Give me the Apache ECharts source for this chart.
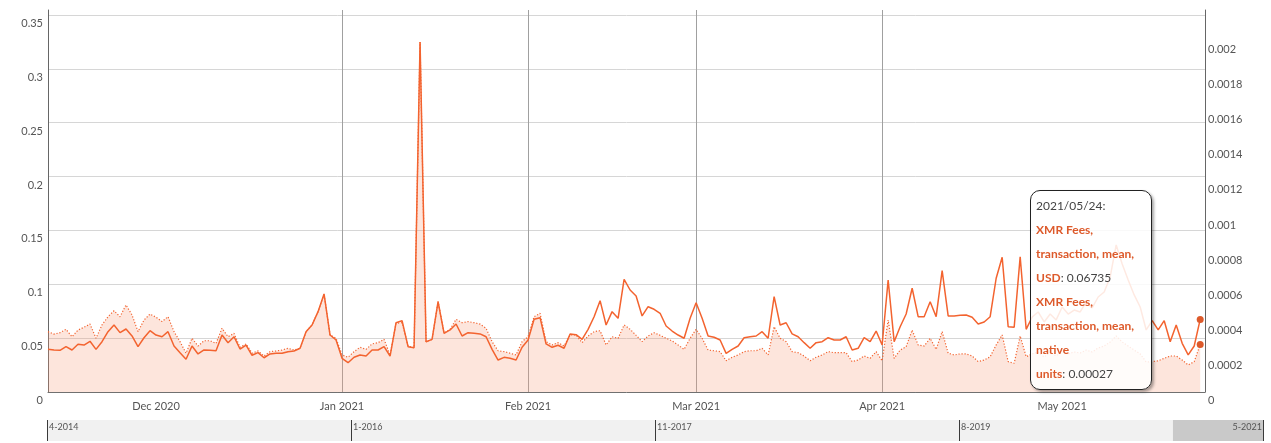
<!DOCTYPE html>
<html><head><meta charset="utf-8">
<script src="https://cdn.jsdelivr.net/npm/echarts@6/dist/echarts.min.js"></script>
<style>html,body{margin:0;padding:0;background:#fff}#c{width:1271px;height:443px}</style>
</head><body><div id="c"></div>
<script>
// ---------- data ----------
const START_DATE = '2020-11-13';           // first daily observation
const USD_NAME = 'XMR Fees, transaction, mean, USD';
const NATIVE_NAME = 'XMR Fees, transaction, mean, native units';

const usdValues = [
 0.0396,0.0390,0.0387,0.0421,0.0390,0.0443,0.0436,0.0471,0.0396,0.0467,
 0.0560,0.0622,0.0551,0.0585,0.0520,0.0421,0.0504,0.0569,0.0529,0.0513,
 0.0560,0.0427,0.0365,0.0304,0.0427,0.0353,0.0390,0.0387,0.0383,0.0529,
 0.0458,0.0513,0.0399,0.0436,0.0341,0.0365,0.0318,0.0353,0.0359,0.0359,
 0.0374,0.0381,0.0406,0.0560,0.0622,0.0746,0.0910,0.0529,0.0483,0.0313,
 0.0272,0.0322,0.0344,0.0334,0.0390,0.0390,0.0421,0.0334,0.0643,0.0662,
 0.0421,0.0411,0.3250,0.0467,0.0489,0.0838,0.0545,0.0576,0.0631,0.0520,
 0.0551,0.0545,0.0539,0.0513,0.0396,0.0297,0.0322,0.0313,0.0297,0.0415,
 0.0483,0.0675,0.0690,0.0446,0.0415,0.0434,0.0406,0.0539,0.0532,0.0489,
 0.0582,0.0699,0.0848,0.0622,0.0746,0.0684,0.1046,0.0947,0.0891,0.0706,
 0.0792,0.0768,0.0731,0.0613,0.0566,0.0529,0.0499,0.0684,0.0829,0.0684,
 0.0520,0.0508,0.0483,0.0359,0.0396,0.0427,0.0504,0.0513,0.0520,0.0560,
 0.0499,0.0885,0.0622,0.0643,0.0539,0.0513,0.0458,0.0406,0.0458,0.0467,
 0.0504,0.0483,0.0483,0.0513,0.0390,0.0406,0.0504,0.0467,0.0566,0.0436,
 0.1040,0.0467,0.0606,0.0724,0.0963,0.0699,0.0699,0.0838,0.0699,0.1126,
 0.0706,0.0706,0.0712,0.0715,0.0694,0.0631,0.0650,0.0699,0.1056,0.1251,
 0.0606,0.0601,0.1256,0.0582,0.0696,0.0743,0.0650,0.0724,0.0669,0.0789,
 0.0724,0.0761,0.0743,0.0836,0.0780,0.0882,0.0928,0.1068,0.1365,0.1188,
 0.1040,0.0901,0.0789,0.0576,0.0662,0.0576,0.0662,0.0467,0.0622,0.0452,
 0.0344,0.0427,0.06735
];

const nativeValues = [
 0.000344,0.000330,0.000338,0.000357,0.000315,0.000353,0.000369,0.000387,0.000306,0.000382,
 0.000429,0.000463,0.000429,0.000496,0.000439,0.000344,0.000410,0.000444,0.000426,0.000401,
 0.000429,0.000344,0.000287,0.000221,0.000306,0.000262,0.000292,0.000292,0.000277,0.000363,
 0.000315,0.000334,0.000255,0.000274,0.000221,0.000234,0.000205,0.000230,0.000234,0.000239,
 0.000249,0.000239,0.000249,0.000344,0.000382,0.000458,0.000558,0.000325,0.000306,0.000211,
 0.000198,0.000230,0.000255,0.000243,0.000274,0.000281,0.000300,0.000211,0.000391,0.000395,
 0.000262,0.000252,0.001994,0.000287,0.000300,0.000515,0.000338,0.000357,0.000414,0.000395,
 0.000401,0.000395,0.000387,0.000363,0.000287,0.000235,0.000230,0.000221,0.000211,0.000287,
 0.000315,0.000429,0.000448,0.000287,0.000268,0.000281,0.000262,0.000325,0.000325,0.000281,
 0.000319,0.000344,0.000349,0.000268,0.000315,0.000306,0.000382,0.000357,0.000323,0.000287,
 0.000319,0.000338,0.000323,0.000306,0.000291,0.000268,0.000243,0.000306,0.000357,0.000306,
 0.000239,0.000235,0.000230,0.000178,0.000198,0.000211,0.000230,0.000235,0.000235,0.000249,
 0.000211,0.000372,0.000306,0.000287,0.000230,0.000224,0.000205,0.000178,0.000198,0.000211,
 0.000230,0.000224,0.000224,0.000224,0.000173,0.000182,0.000205,0.000192,0.000230,0.000178,
 0.000410,0.000192,0.000239,0.000258,0.000353,0.000268,0.000262,0.000306,0.000243,0.000344,
 0.000221,0.000211,0.000217,0.000217,0.000205,0.000173,0.000182,0.000201,0.000268,0.000325,
 0.000173,0.000164,0.000319,0.000201,0.000217,0.000228,0.000199,0.000228,0.000205,0.000239,
 0.000217,0.000228,0.000222,0.000239,0.000228,0.000251,0.000262,0.000285,0.000319,0.000285,
 0.000262,0.000239,0.000217,0.000171,0.000173,0.000178,0.000192,0.000205,0.000205,0.000182,
 0.000154,0.000173,0.00027
];

const monthTicks = ['2020-12-01','2021-01-01','2021-02-01','2021-03-01','2021-04-01','2021-05-01'];
const monthNames = ['Jan','Feb','Mar','Apr','May','Jun','Jul','Aug','Sep','Oct','Nov','Dec'];

const leftAxisTicks = { max: 0.35, step: 0.05 };
const rightAxisTicks = { max: 0.002, step: 0.0002 };

const navStart = '2014-04-18';
const navEnd = '2021-05-24';
const navSelectedFrom = '2020-11-13';
const navLabelCount = 5;

// ---------- helpers ----------
const DAY = 86400000;
function ts(s){ const p = s.split('-').map(Number); return new Date(p[0], p[1]-1, p[2]).getTime(); }
function dayDiff(a, b){ return Math.round((ts(b) - ts(a)) / DAY); }
function pad(n){ return (n < 10 ? '0' : '') + n; }

const sp = START_DATE.split('-').map(Number);
const dates = usdValues.map((_, i) => new Date(sp[0], sp[1]-1, sp[2] + i).getTime());

const ORANGE = '#dd5a2b';
const FONT = 'Lato';

// Plot scale: grid top sits a little above the highest labelled tick
const GRID_TOP = 10, GRID_BOTTOM_Y = 392, TOP_TICK_Y = 15;
const extraFrac = (TOP_TICK_Y - GRID_TOP) / (GRID_BOTTOM_Y - TOP_TICK_Y);
const leftMax = leftAxisTicks.max * (1 + extraFrac);
const rightMax = (GRID_BOTTOM_Y - GRID_TOP) / (GRID_BOTTOM_Y - 41) * rightAxisTicks.max;

const navTotal = dayDiff(navStart, navEnd);
const navSel = dayDiff(navStart, navSelectedFrom);
const navStartTs = ts(navStart);
const monthTickTs = monthTicks.map(ts);
const navFmt = v => { const d = new Date(navStartTs + v * DAY); return (d.getMonth() + 1) + '-' + d.getFullYear(); };
const navLabelValues = [];
for (let k = 0; k < navLabelCount - 1; k++) navLabelValues.push(navTotal * k / (navLabelCount - 1));

const chart = echarts.init(document.getElementById('c'), null, { renderer: 'canvas' });

const navLabelStyle = { fontSize: 9, color: '#555', fontFamily: FONT, formatter: navFmt };

const option = {
  animation: false,
  backgroundColor: '#fff',
  textStyle: { fontFamily: FONT },
  grid: [
    { left: 48, right: 66, top: GRID_TOP, bottom: 443 - GRID_BOTTOM_Y, containLabel: false, outerBoundsMode: 'none' },
    { left: 47, right: 8, top: 420, bottom: 2, show: true, backgroundColor: '#f1f1f1', borderWidth: 0, containLabel: false, outerBoundsMode: 'none' }
  ],
  xAxis: [
    {
      type: 'value', gridIndex: 0,
      min: dates[0], max: dates[dates.length - 1] + 0.8 * DAY,
      axisLine: { show: true, onZero: false, lineStyle: { color: '#707070', width: 1 } },
      axisTick: { show: false, customValues: monthTickTs },
      axisLabel: {
        customValues: monthTickTs,
        color: '#555', fontSize: 11, fontFamily: FONT, margin: 9,
        formatter: v => { const d = new Date(v); return monthNames[d.getMonth()] + ' ' + d.getFullYear(); }
      },
      splitLine: { show: true, showMinLine: false, showMaxLine: false, lineStyle: { color: '#a0a0a0', width: 1 } }
    },
    {
      type: 'value', gridIndex: 1, position: 'top', z: 6,
      min: 0, max: navTotal, interval: navTotal / (navLabelCount - 1),
      axisLine: { show: false }, axisTick: { show: false },
      axisLabel: Object.assign({ customValues: navLabelValues, inside: true, margin: 3, align: 'left', padding: [0, 0, 0, 2] }, navLabelStyle),
      splitLine: { show: true, lineStyle: { color: '#3a3a3a', width: 1 } }
    },
    {
      type: 'value', gridIndex: 1, position: 'bottom', z: 6,
      min: 0, max: navTotal,
      axisLine: { show: false }, axisTick: { show: false }, splitLine: { show: false },
      axisLabel: Object.assign({ customValues: [navTotal], inside: true, margin: 9, align: 'right', padding: [0, 1, 0, 0], showMaxLabel: true }, navLabelStyle)
    }
  ],
  yAxis: [
    {
      type: 'value', gridIndex: 0, position: 'left',
      min: 0, max: leftMax, interval: leftAxisTicks.step,
      axisLine: { show: true, lineStyle: { color: '#666', width: 1 } },
      axisTick: { show: false },
      axisLabel: { color: '#555', fontSize: 11, fontFamily: FONT, margin: 5, verticalAlign: 'top', padding: [3, 0, 0, 0], showMaxLabel: false },
      splitLine: { show: true, showMaxLine: false, lineStyle: { color: '#d6d6d6', width: 1 } }
    },
    {
      type: 'value', gridIndex: 0, position: 'right',
      min: 0, max: rightMax, interval: rightAxisTicks.step,
      axisLine: { show: true, lineStyle: { color: '#666', width: 1 } },
      axisTick: { show: false },
      axisLabel: { color: '#555', fontSize: 11, fontFamily: FONT, margin: 3, verticalAlign: 'top', padding: [3, 0, 0, 0], showMaxLabel: false },
      splitLine: { show: false }
    },
    { type: 'value', gridIndex: 1, show: false, min: 0, max: 1 }
  ],
  tooltip: {
    show: true, trigger: 'axis', triggerOn: 'none', alwaysShowContent: true,
    axisPointer: { type: 'none' },
    position: [1030, 190],
    transitionDuration: 0,
    backgroundColor: 'rgba(255,255,255,0.86)',
    borderColor: '#222', borderWidth: 1.5, borderRadius: 10,
    padding: [3, 5],
    textStyle: { color: '#444', fontSize: 12, fontFamily: FONT },
    extraCssText: 'width:110px;white-space:normal;line-height:24px;box-shadow:2px 2px 3px rgba(0,0,0,0.35);',
    formatter: function (params) {
      const d = new Date(params[0].value[0]);
      let s = d.getFullYear() + '/' + pad(d.getMonth() + 1) + '/' + pad(d.getDate()) + ':';
      params.forEach(p => {
        s += '<br/><span style="color:' + ORANGE + ';font-weight:bold">' + p.seriesName + '</span>:&nbsp;' + p.value[1];
      });
      return s;
    }
  },
  series: [
    {
      name: USD_NAME, type: 'line', xAxisIndex: 0, yAxisIndex: 0, z: 4,
      data: dates.map((t, i) => [t, usdValues[i]]),
      showSymbol: false, symbol: 'circle', symbolSize: 7,
      itemStyle: { color: ORANGE },
      lineStyle: { color: ORANGE, width: 1.5 },
      emphasis: { scale: false, itemStyle: { color: ORANGE, borderWidth: 0 }, lineStyle: { width: 1.5 } }
    },
    {
      name: NATIVE_NAME, type: 'line', xAxisIndex: 0, yAxisIndex: 1, z: 3,
      data: dates.map((t, i) => [t, nativeValues[i]]),
      showSymbol: false, symbol: 'circle', symbolSize: 7,
      itemStyle: { color: ORANGE },
      lineStyle: { color: ORANGE, width: 1.2, type: [1.2, 1.8] },
      areaStyle: { color: 'rgba(246,150,115,0.36)' },
      emphasis: { scale: false, itemStyle: { color: ORANGE, borderWidth: 0 }, lineStyle: { width: 1.2 }, areaStyle: { color: 'rgba(246,150,115,0.36)' } }
    },
    {
      name: 'navigator', type: 'line', xAxisIndex: 1, yAxisIndex: 2, silent: true, z: 1,
      data: [], showSymbol: false, tooltip: { show: false },
      markArea: {
        silent: true,
        itemStyle: { color: '#c9c9c9' },
        data: [[{ xAxis: navSel }, { xAxis: navTotal }]]
      }
    }
  ]
};

chart.setOption(option);
chart.dispatchAction({ type: 'showTip', seriesIndex: 0, dataIndex: usdValues.length - 1 });
</script>
</body></html>
